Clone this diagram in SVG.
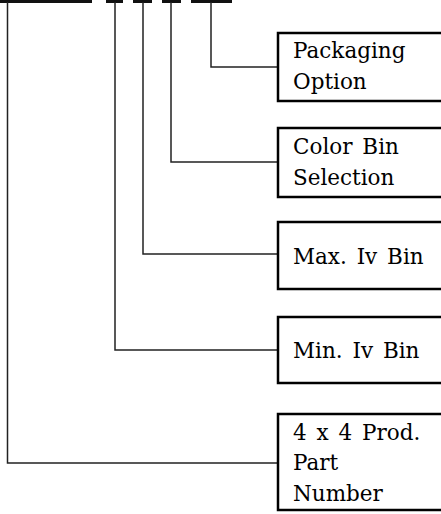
<svg xmlns="http://www.w3.org/2000/svg" width="441" height="514" viewBox="0 0 441 514">
<style>
.box{fill:#fff;stroke:#000;stroke-width:2.5}
.ln{fill:none;stroke:#222;stroke-width:1.5}
.bar{fill:none;stroke:#111;stroke-width:3}
text{font-family:"DejaVu Serif","Liberation Serif",serif;font-size:21.5px;word-spacing:3px;fill:#000}
</style>
<rect width="441" height="514" fill="#fff"/>
<g id="connectors">
<line class="bar" x1="0" y1="1.5" x2="92" y2="1.5"/>
<line class="bar" x1="106" y1="1.5" x2="123" y2="1.5"/>
<line class="bar" x1="133" y1="1.5" x2="152" y2="1.5"/>
<line class="bar" x1="162" y1="1.5" x2="181" y2="1.5"/>
<line class="bar" x1="191" y1="1.5" x2="232" y2="1.5"/>
<polyline class="ln" points="211,2 211,67 277,67"/>
<polyline class="ln" points="171,2 171,162 277,162"/>
<polyline class="ln" points="143,2 143,254 277,254"/>
<polyline class="ln" points="115,2 115,350 277,350"/>
<polyline class="ln" points="7.5,2 7.5,463 277,463"/>
</g>
<g id="packaging"><rect class="box" x="278" y="33" width="180" height="68"/><text x="293" y="58">Packaging</text><text x="293" y="89">Option</text></g>
<g id="color"><rect class="box" x="278" y="128" width="180" height="69"/><text x="293" y="154">Color Bin</text><text x="293" y="185">Selection</text></g>
<g id="maxiv"><rect class="box" x="278" y="222" width="180" height="67"/><text x="293" y="264">Max. Iv Bin</text></g>
<g id="miniv"><rect class="box" x="278" y="317" width="180" height="66"/><text x="293" y="358">Min. Iv Bin</text></g>
<g id="part"><rect class="box" x="278" y="414" width="180" height="96"/><text x="293" y="440">4 x 4 Prod.</text><text x="293" y="470">Part</text><text x="293" y="501">Number</text></g>
</svg>
